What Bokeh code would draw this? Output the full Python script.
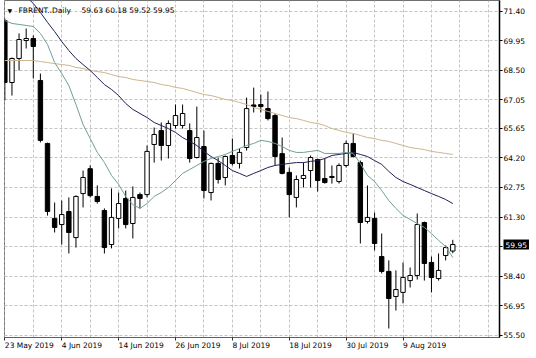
from bokeh.plotting import figure
from bokeh.models import Range1d, FixedTicker, Label, ColumnDataSource
from bokeh.core.properties import value
from bokeh.embed import file_html
from bokeh.resources import INLINE

# ---- data ----
dates = ["23 May 2019", "4 Jun 2019", "14 Jun 2019", "26 Jun 2019",
         "8 Jul 2019", "18 Jul 2019", "30 Jul 2019", "9 Aug 2019"]
date_bars = [0, 8, 16, 24, 32, 40, 48, 56]

opens = [70.94, 67.90, 69.08, 69.96, 70.06, 68.00, 64.91, 61.23, 60.93, 61.57,
         60.29, 62.45, 63.67, 62.31, 61.62, 59.95, 61.23, 62.21, 60.98, 62.40,
         62.40, 64.86, 65.54, 64.81, 65.79, 65.79, 65.54, 64.22, 64.76, 62.50,
         63.93, 63.24, 64.32, 63.93, 64.71, 66.80, 66.82, 66.62, 66.28, 64.41,
         63.49, 62.26, 63.19, 63.58, 64.12, 63.19, 63.29, 63.04, 63.83, 64.91,
         63.97, 61.08, 61.23, 59.36, 58.63, 57.40, 57.60, 58.18, 58.43, 61.03,
         59.07, 58.28, 59.41, 59.63]
highs = [71.04, 69.13, 70.31, 70.55, 70.21, 68.34, 64.95, 62.01, 62.11, 62.26,
         62.36, 63.58, 63.83, 62.85, 61.72, 62.70, 62.50, 62.60, 62.80, 62.50,
         64.81, 65.69, 65.94, 66.04, 66.82, 66.82, 65.89, 66.72, 65.54, 63.97,
         64.22, 64.32, 65.15, 64.66, 67.16, 67.65, 67.31, 67.46, 66.38, 65.20,
         63.73, 63.34, 63.97, 64.32, 64.17, 64.17, 63.83, 63.93, 65.05, 65.40,
         64.07, 62.85, 61.52, 60.49, 59.17, 58.68, 59.07, 58.82, 61.47, 61.08,
         59.36, 59.51, 59.90, 60.18]
lows = [67.02, 67.26, 68.49, 69.57, 68.10, 64.96, 61.37, 60.54, 59.95, 59.51,
        59.80, 61.77, 62.26, 61.96, 59.51, 59.76, 60.74, 60.74, 60.25, 61.72,
        62.26, 63.97, 64.07, 64.17, 65.64, 65.64, 63.97, 64.17, 62.21, 62.11,
        62.94, 62.85, 63.83, 63.68, 64.56, 66.43, 66.43, 66.04, 63.83, 63.39,
        61.28, 61.77, 62.75, 62.75, 62.55, 62.94, 62.94, 62.94, 63.73, 64.22,
        60.00, 60.98, 59.66, 58.53, 55.83, 56.71, 57.06, 57.84, 58.23, 58.18,
        57.60, 58.18, 59.17, 59.52]
closes = [67.90, 69.08, 70.01, 70.06, 69.67, 65.06, 61.57, 60.79, 61.42, 60.54,
          62.31, 63.24, 62.35, 62.06, 59.80, 61.28, 61.96, 60.93, 62.26, 62.21,
          64.52, 65.35, 64.81, 65.89, 66.28, 66.38, 64.17, 65.20, 62.60, 63.93,
          63.14, 64.27, 63.93, 64.47, 66.62, 66.72, 66.72, 66.13, 64.27, 63.44,
          62.40, 63.14, 63.34, 64.22, 63.09, 62.99, 63.24, 63.83, 64.91, 64.27,
          61.03, 61.28, 60.00, 58.63, 57.30, 57.74, 58.33, 58.43, 60.93, 59.02,
          58.33, 58.68, 59.80, 59.95]

ma_fast = [70.94, 70.80, 70.75, 70.70, 70.65, 70.31, 69.77, 68.88, 68.34, 67.75,
           66.82, 65.84, 65.15, 64.47, 63.98, 63.34, 62.90, 62.31, 61.91, 61.72,
           61.96, 62.31, 62.50, 62.75, 63.09, 63.44, 63.63, 63.83, 64.03, 64.17,
           64.27, 64.37, 64.52, 64.66, 64.81, 64.91, 65.06, 65.01, 64.91, 64.76,
           64.57, 64.47, 64.47, 64.52, 64.57, 64.42, 64.42, 64.42, 64.47, 64.42,
           63.93, 63.34, 63.04, 62.60, 62.11, 61.72, 61.38, 61.18, 60.98, 60.79,
           60.49, 60.15, 59.85, 59.31]
ma_mid = [73.40, 72.95, 72.51, 72.12, 71.78, 71.34, 70.85, 70.40, 69.91, 69.47,
          69.08, 68.78, 68.49, 68.15, 67.80, 67.56, 67.26, 66.87, 66.58, 66.38,
          66.18, 65.94, 65.79, 65.64, 65.45, 65.20, 65.01, 64.81, 64.52, 64.27,
          64.07, 63.83, 63.58, 63.44, 63.29, 63.44, 63.58, 63.73, 63.83, 63.88,
          63.93, 63.97, 63.97, 64.03, 64.07, 64.17, 64.32, 64.37, 64.42, 64.47,
          64.37, 64.27, 64.07, 63.88, 63.54, 63.24, 63.04, 62.90, 62.75, 62.60,
          62.45, 62.31, 62.16, 61.96]
ma_slow = [68.98, 68.98, 68.98, 68.98, 68.98, 68.93, 68.88, 68.83, 68.78, 68.74,
           68.64, 68.59, 68.49, 68.44, 68.39, 68.29, 68.19, 68.15, 68.05, 68.00,
           67.95, 67.90, 67.80, 67.75, 67.66, 67.61, 67.51, 67.41, 67.31, 67.26,
           67.17, 67.07, 67.02, 66.92, 66.82, 66.68, 66.58, 66.48, 66.38, 66.28,
           66.18, 66.13, 66.04, 65.94, 65.89, 65.79, 65.64, 65.55, 65.45, 65.40,
           65.30, 65.20, 65.15, 65.06, 65.01, 64.91, 64.81, 64.71, 64.66, 64.61,
           64.52, 64.47, 64.42, 64.37]

price_ticks = ["71.40", "69.95", "68.50", "67.05", "65.65", "64.20",
               "62.75", "61.30", "59.85", "58.40", "56.95", "55.50"]
last_price = "59.95"
title_name = "FBRENT..Daily"
title_values = "59.63 60.18 59.52 59.95"

# ---- build ----
n = len(opens)
idx = list(range(n))
src = ColumnDataSource(dict(
    x=idx, o=opens, h=highs, l=lows, c=closes,
    top=[max(a, b) for a, b in zip(opens, closes)],
    bot=[min(a, b) for a, b in zip(opens, closes)],
    fill=["white" if c > o else "black" for o, c in zip(opens, closes)],
    f=ma_fast, m=ma_mid, s=ma_slow,
))

FONT = "DejaVu Sans"
X0, X1 = -0.05, 69.57
Y0, Y1 = 55.387, 71.925

p = figure(width=536, height=358, output_backend="svg", toolbar_location=None,
           x_range=Range1d(X0, X1), y_range=Range1d(Y0, Y1),
           y_axis_location="right",
           min_border_left=4, min_border_right=37, min_border_top=0,
           min_border_bottom=21)
p.background_fill_color = "white"
p.border_fill_color = "white"
p.outline_line_color = "#707070"
p.outline_line_width = 1

# grids
p.xgrid.ticker = FixedTicker(ticks=list(range(0, 72, 4)))
for g in (p.xgrid, p.ygrid):
    g.grid_line_color = "#c4c4c4"
    g.grid_line_dash = "3 2"
    g.grid_line_width = 1

# x axis (tick marks only; labels drawn left-aligned below)
xa = p.xaxis[0]
xa.ticker = FixedTicker(ticks=date_bars)
xa.major_label_overrides = {b: "" for b in date_bars}
xa.major_label_text_font_size = "7.5px"
xa.major_label_standoff = 1
xa.major_tick_out = 3
xa.major_tick_in = 0
xa.minor_tick_out = 0
xa.minor_tick_in = 0
xa.axis_line_color = "#606060"
xa.major_tick_line_color = "#303030"

date_src = ColumnDataSource(dict(x=date_bars, y=[Y0] * len(date_bars), t=dates))
p.text(x="x", y="y", text="t", source=date_src, level="overlay",
       text_font=value(FONT), text_font_size="7.5px", text_color="black",
       text_align="left", text_baseline="top", y_offset=3.5, x_offset=0)

# y axis (right)
ya = p.yaxis[0]
tick_vals = [float(t) for t in price_ticks]
ya.ticker = FixedTicker(ticks=tick_vals)
ya.major_label_overrides = {float(t): ("" if t == "59.85" else t) for t in price_ticks}
ya.major_label_text_font = FONT
ya.major_label_text_font_size = "7.5px"
ya.major_label_text_color = "black"
ya.major_label_standoff = 1
ya.major_tick_out = 3
ya.major_tick_in = 0
ya.minor_tick_out = 0
ya.minor_tick_in = 0
ya.axis_line_color = "black"
ya.axis_line_width = 1.5
ya.major_tick_line_color = "black"

# candles
p.segment(x0="x", y0="l", x1="x", y1="h", source=src, line_color="black", line_width=1)
p.vbar(x="x", top="top", bottom="bot", width=0.62, source=src,
       fill_color="fill", line_color="black", line_width=1)

# moving averages
p.line("x", "s", source=src, line_color="#cdb48e", line_width=1)
p.line("x", "m", source=src, line_color="#202058", line_width=1)
p.line("x", "f", source=src, line_color="#6f9f95", line_width=1)

# header
p.add_layout(Label(x=3, y=327, x_units="screen", y_units="screen", text="▼",
                   text_font=FONT, text_font_size="6px", text_color="black",
                   text_align="left", text_baseline="middle"))
p.add_layout(Label(x=14, y=327, x_units="screen", y_units="screen", text=title_name,
                   text_font=FONT, text_font_size="7.5px", text_color="black",
                   text_align="left", text_baseline="middle"))
p.add_layout(Label(x=77, y=327, x_units="screen", y_units="screen", text=title_values,
                   text_font=FONT, text_font_size="7.5px", text_color="black",
                   text_align="left", text_baseline="middle"))

# last price tag
tag_src = ColumnDataSource(dict(x=[X1], y=[float(last_price)], t=[last_price]))
p.text(x="x", y="y", text="t", source=tag_src, level="overlay",
       text_font=value(FONT), text_font_size="7.5px", text_color="white",
       text_align="left", text_baseline="middle", x_offset=4,
       background_fill_color="black", padding=2)

open("out.html", "w").write(file_html(p, INLINE))
